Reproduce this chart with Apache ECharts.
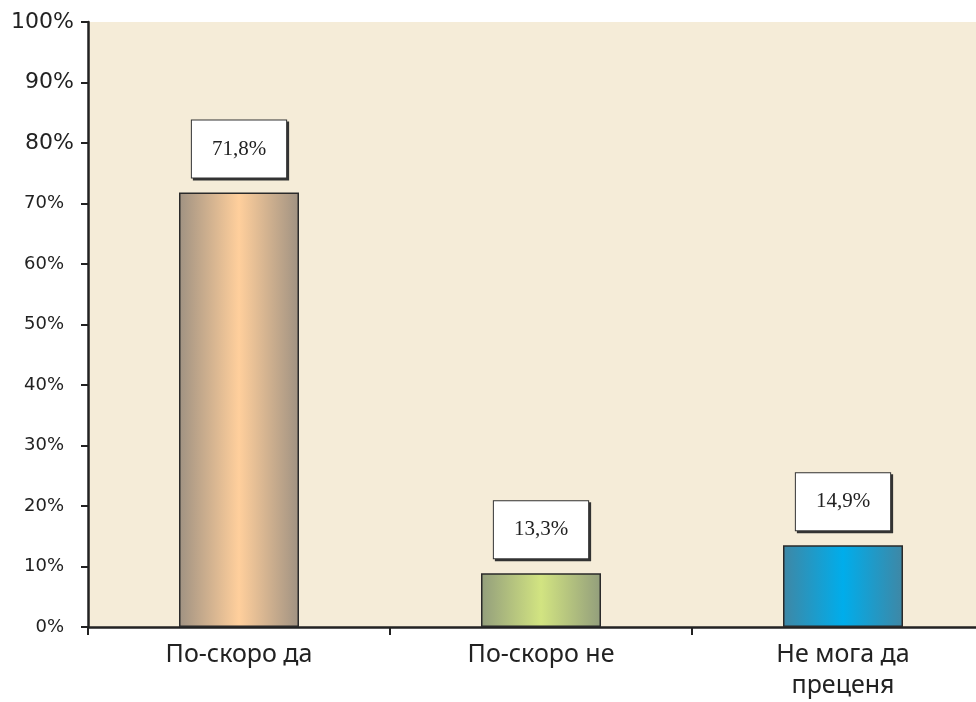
<!DOCTYPE html>
<html>
<head>
<meta charset="utf-8">
<script src="https://cdn.jsdelivr.net/npm/echarts@6/dist/echarts.min.js"></script>
<style>html,body{margin:0;padding:0;background:#fff;}#c{width:976px;height:702px;}</style>
</head>
<body>
<div id="c"></div>
<script>
const categories = ['По-скоро да', 'По-скоро не', 'Не мога да\nпреценя'];
const values = [71.8, 8.9, 13.5];
const labelTexts = ['71,8%', '13,3%', '14,9%'];
const gradients = [
  ['#A09282', '#FFCF9C'],
  ['#939E7C', '#D2E481'],
  ['#3F87A5', '#00ADEB']
];

function grad(c) {
  return new echarts.graphic.LinearGradient(0, 0, 1, 0, [
    { offset: 0, color: c[0] },
    { offset: 0.5, color: c[1] },
    { offset: 1, color: c[0] }
  ]);
}

const chart = echarts.init(document.getElementById('c'), null, { renderer: 'canvas' });
chart.setOption({
  animation: false,
  backgroundColor: '#ffffff',
  grid: {
    left: 88, width: 906, top: 22, bottom: 75,
    outerBoundsMode: 'none',
    containLabel: false,
    show: true, backgroundColor: '#F5ECD8', borderWidth: 0
  },
  xAxis: {
    type: 'category',
    data: categories,
    axisLine: { lineStyle: { color: '#222', width: 2.5 } },
    axisTick: { show: true, inside: false, length: 8, lineStyle: { color: '#222', width: 2 }, alignWithLabel: false },
    axisLabel: {
      interval: 0, margin: 12, color: '#222', fontFamily: 'Noto Sans', fontSize: 25, lineHeight: 31
    }
  },
  yAxis: {
    type: 'value',
    min: 0, max: 100, interval: 10,
    splitLine: { show: false },
    axisLine: { show: true, lineStyle: { color: '#222', width: 2.5 } },
    axisTick: { show: true, length: 7, lineStyle: { color: '#222', width: 2 } },
    axisLabel: {
      margin: 10,
      formatter: function (v) { return v >= 80 ? '{big|' + v + '%}' : '{small|' + v + '%}'; },
      rich: {
        big: { fontFamily: 'DejaVu Sans', fontSize: 22, color: '#222', padding: [0, 4, 0, 0] },
        small: { fontFamily: 'DejaVu Sans', fontSize: 18, color: '#222', padding: [0, 14, 0, 0] }
      }
    }
  },
  series: [{
    type: 'bar',
    barWidth: 120,
    data: values.map(function (v, i) {
      return {
        value: v,
        itemStyle: { color: grad(gradients[i]), borderColor: '#2a2a2a', borderWidth: 1.5 }
      };
    }),
    label: {
      show: true,
      position: 'top',
      distance: 15,
      formatter: function (p) { return labelTexts[p.dataIndex]; },
      fontFamily: 'Liberation Serif',
      fontSize: 21,
      color: '#222',
      backgroundColor: '#ffffff',
      borderColor: '#333',
      borderWidth: 1,
      padding: [18, 20],
      shadowColor: '#333',
      shadowOffsetX: 2,
      shadowOffsetY: 2,
      shadowBlur: 0
    }
  }]
});
</script>
</body>
</html>
